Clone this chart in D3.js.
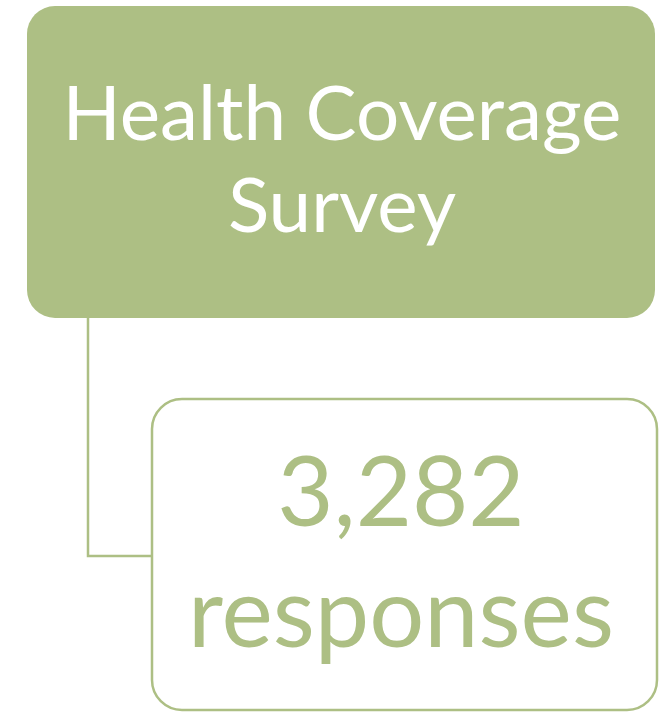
<!DOCTYPE html>
<html>
<head>
<meta charset="utf-8">
<script src="https://cdn.jsdelivr.net/npm/d3@7"></script>
<style>
    html, body { margin: 0; padding: 0; background: #fff; }
    svg { display: block; }
</style>
</head>
<body>
<svg id="diagram" width="664" height="712"></svg>
<script>
let parentLines = ['Health Coverage', 'Survey']
let childLines = ['3,282', 'responses']

function main() {
    let svg = d3.select('#diagram'),
        green = '#adbf84',
        font = 'Lato, "Open Sans", sans-serif'

    let parent = {x: 27, y: 6, w: 628, h: 312, r: 28},
        child = {x: 152, y: 399, w: 505, h: 311, r: 30}

    // connector: down from parent, across to child
    let connX = 88, connY = 556
    svg.append('path')
        .attr('d', d3.line()([[connX, parent.y + parent.h], [connX, connY], [child.x, connY]]))
        .attr('fill', 'none')
        .attr('stroke', green)
        .attr('stroke-width', 2.5)

    svg.append('rect')
        .attr('x', parent.x).attr('y', parent.y)
        .attr('width', parent.w).attr('height', parent.h)
        .attr('rx', parent.r)
        .attr('fill', green)

    svg.append('rect')
        .attr('x', child.x).attr('y', child.y)
        .attr('width', child.w).attr('height', child.h)
        .attr('rx', child.r)
        .attr('fill', '#fff')
        .attr('stroke', green)
        .attr('stroke-width', 2.5)

    // size text so the widest line spans the given width
    function block(lines, cx, baselines, fitWidth, color) {
        let texts = svg.selectAll(null)
            .data(lines)
            .enter()
            .append('text')
            .attr('text-anchor', 'middle')
            .attr('font-family', font)
            .attr('font-size', 100)
            .attr('fill', color)
            .attr('x', cx)
            .attr('y', (d, i) => baselines[i])
            .text(d => d)
        let widest = d3.max(texts.nodes(), n => n.getComputedTextLength())
        texts.attr('font-size', 100 * fitWidth / widest)
    }

    block(parentLines, 342, [140, 232], 559, '#fff')
    block(childLines, 401, [526, 647], 426, green)
}

main()
</script>
</body>
</html>
